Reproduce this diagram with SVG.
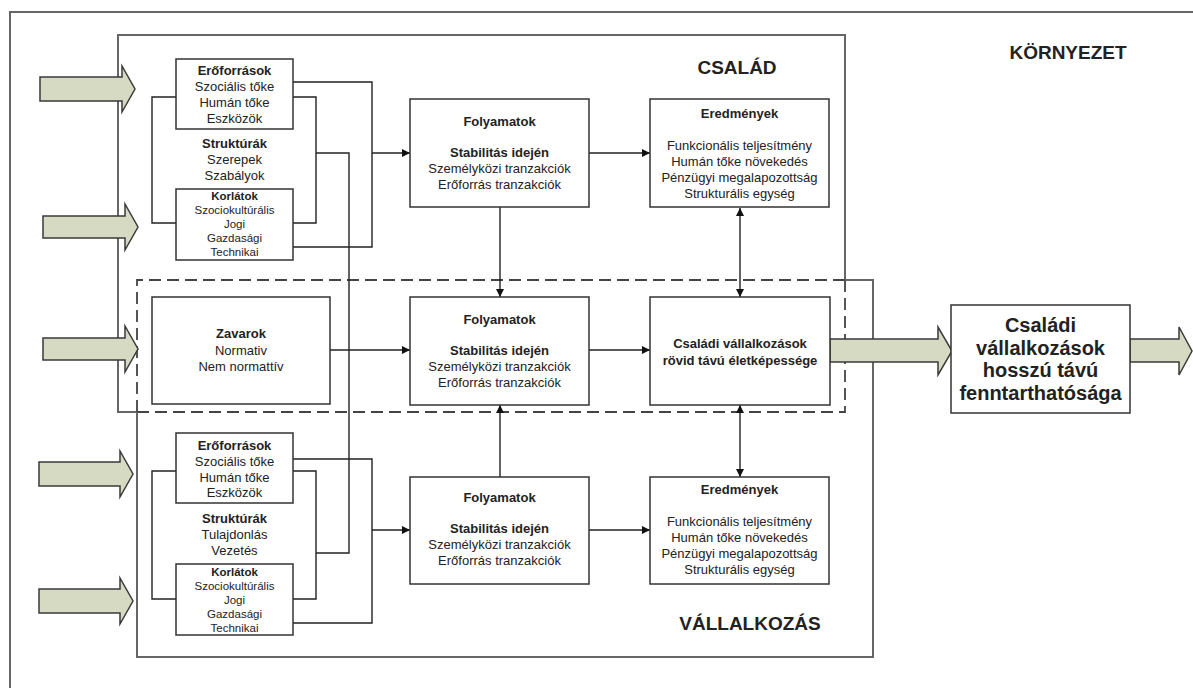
<svg xmlns="http://www.w3.org/2000/svg" width="1193" height="688" viewBox="0 0 1193 688">
<defs>
<marker id="ah" viewBox="0 0 10 10" refX="10" refY="5" markerWidth="9" markerHeight="8" markerUnits="userSpaceOnUse" orient="auto-start-reverse">
<path d="M0,0 L10,5 L0,10 Z" fill="#111"/>
</marker>
<style>
text{font-family:"Liberation Sans",Arial,sans-serif;fill:#222;text-anchor:middle}
.b{font-weight:bold}
.t{font-size:13px}
.s{font-size:11.5px}
.h{font-size:19px;font-weight:bold}
.big{font-size:20px;font-weight:bold}
.box{fill:#fff;stroke:#333;stroke-width:1.5}
.frame{fill:none;stroke:#666;stroke-width:2}
.dash{fill:none;stroke:#444;stroke-width:1.8;stroke-dasharray:12 6}
.ln{fill:none;stroke:#222;stroke-width:1.4}
.arr{fill:none;stroke:#222;stroke-width:1.4;marker-end:url(#ah)}
.arr2{fill:none;stroke:#222;stroke-width:1.4;marker-end:url(#ah);marker-start:url(#ah)}
.fat{fill:#d7dac3;stroke:#3a3a3a;stroke-width:1.5}
</style>
</defs>
<rect width="1193" height="688" fill="#fff"/>

<g id="environment">
<path class="frame" d="M10,700 V12 H1200"/>
<text class="h" x="1068" y="59">KÖRNYEZET</text>
</g>

<g id="csalad-frame">
<path class="frame" d="M137,412 H118 V35 H845 V280"/>
<path class="dash" d="M137,412 H845 V280"/>
<text class="h" x="737" y="74">CSALÁD</text>
</g>

<g id="vallalkozas-frame">
<path class="frame" d="M845,280 H873 V657 H137 V412"/>
<path class="dash" d="M137,412 V280 H845"/>
<text class="h" x="750" y="630">VÁLLALKOZÁS</text>
</g>

<g id="connectors">
<!-- top left brackets -->
<path class="ln" d="M176,97 H152 V223 H176"/>
<path class="ln" d="M293,97 H316 V223 H293"/>
<path class="ln" d="M293,82 H372 V247 H293"/>
<path class="ln" d="M316,153 H349 V553 H316"/>
<path class="arr" d="M372,153 H410"/>
<!-- bottom left brackets -->
<path class="ln" d="M176,471 H152 V599 H176"/>
<path class="ln" d="M293,471 H316 V599 H293"/>
<path class="ln" d="M293,459 H372 V623 H293"/>
<path class="arr" d="M372,530 H410"/>
<!-- process to results -->
<path class="arr" d="M589,153 H650"/>
<path class="arr" d="M330,350 H410"/>
<path class="arr" d="M589,350 H650"/>
<path class="arr" d="M589,530 H650"/>
<!-- verticals -->
<path class="arr" d="M500,207 V297"/>
<path class="arr" d="M500,477 V405"/>
<path class="arr2" d="M740,208 V297"/>
<path class="arr2" d="M740,405 V477"/>
</g>

<g id="input-arrows">
<path class="fat" d="M40,77 H122 V66 L135,89 L122,112 V101 H40 Z"/>
<path class="fat" d="M43,216 H125 V204 L138,227 L125,250 V238 H43 Z"/>
<path class="fat" d="M43,338 H125 V326 L138,349 L125,372 V360 H43 Z"/>
<path class="fat" d="M39,462 H120 V451 L133,474 L120,497 V486 H39 Z"/>
<path class="fat" d="M39,589 H120 V578 L133,601 L120,624 V613 H39 Z"/>
</g>

<g id="output-arrow-1">
<path class="fat" d="M830,339 H938 V327 L952,351 L938,375 V362 H830 Z"/>
</g>
<g id="output-arrow-2">
<path class="fat" d="M1130,339 H1179 V327 L1192,351 L1179,375 V362 H1130 Z"/>
</g>

<g id="csalad-eroforrasok">
<rect class="box" x="176" y="59" width="117" height="70"/>
<text class="t b" x="234.5" y="74.5">Erőforrások</text>
<text class="t" x="234.5" y="90.5">Szociális tőke</text>
<text class="t" x="234.5" y="106.5">Humán tőke</text>
<text class="t" x="234.5" y="122.5">Eszközök</text>
</g>
<g id="csalad-strukturak">
<text class="t b" x="234.5" y="147.5">Struktúrák</text>
<text class="t" x="234.5" y="163.5">Szerepek</text>
<text class="t" x="234.5" y="180">Szabályok</text>
</g>
<g id="csalad-korlatok">
<rect class="box" x="176" y="189" width="117" height="71"/>
<text class="s b" x="234.5" y="199.5">Korlátok</text>
<text class="s" x="234.5" y="213.5">Szociokultúrális</text>
<text class="s" x="234.5" y="227.5">Jogi</text>
<text class="s" x="234.5" y="241.5">Gazdasági</text>
<text class="s" x="234.5" y="255.5">Technikai</text>
</g>

<g id="csalad-folyamatok">
<rect class="box" x="410" y="99" width="179" height="108"/>
<text class="t b" x="499.5" y="125.5">Folyamatok</text>
<text class="t b" x="499.5" y="156.5">Stabilitás idején</text>
<text class="t" x="499.5" y="172.5">Személyközi tranzakciók</text>
<text class="t" x="499.5" y="188.5">Erőforrás tranzakciók</text>
</g>
<g id="csalad-eredmenyek">
<rect class="box" x="650" y="99" width="179" height="108"/>
<text class="t b" x="739.5" y="117.5">Eredmények</text>
<text class="t" x="739.5" y="149.5">Funkcionális teljesítmény</text>
<text class="t" x="739.5" y="165.5">Humán tőke növekedés</text>
<text class="t" x="739.5" y="181.5">Pénzügyi megalapozottság</text>
<text class="t" x="739.5" y="197.5">Strukturális egység</text>
</g>

<g id="zavarok">
<rect class="box" x="152" y="297" width="178" height="107"/>
<text class="t b" x="241" y="337.5">Zavarok</text>
<text class="t" x="241" y="354.5">Normativ</text>
<text class="t" x="241" y="370.5">Nem normattív</text>
</g>
<g id="kozos-folyamatok">
<rect class="box" x="410" y="297" width="179" height="108"/>
<text class="t b" x="499.5" y="323.5">Folyamatok</text>
<text class="t b" x="499.5" y="354.5">Stabilitás idején</text>
<text class="t" x="499.5" y="370.5">Személyközi tranzakciók</text>
<text class="t" x="499.5" y="386.5">Erőforrás tranzakciók</text>
</g>
<g id="rovid-tavu">
<rect class="box" x="650" y="297" width="180" height="108"/>
<text class="t b" x="740" y="347.5">Családi vállalkozások</text>
<text class="t b" x="740" y="364.5">rövid távú életképessége</text>
</g>
<g id="hosszu-tavu">
<rect class="box" x="951" y="305" width="179" height="108"/>
<text class="big" x="1040.5" y="332">Családi</text>
<text class="big" x="1040.5" y="355">vállalkozások</text>
<text class="big" x="1040.5" y="377">hosszú távú</text>
<text class="big" x="1040.5" y="400">fenntarthatósága</text>
</g>

<g id="vall-eroforrasok">
<rect class="box" x="176" y="433" width="117" height="70"/>
<text class="t b" x="234.5" y="449.5">Erőforrások</text>
<text class="t" x="234.5" y="465.5">Szociális tőke</text>
<text class="t" x="234.5" y="481.5">Humán tőke</text>
<text class="t" x="234.5" y="497">Eszközök</text>
</g>
<g id="vall-strukturak">
<text class="t b" x="234.5" y="523">Struktúrák</text>
<text class="t" x="234.5" y="538.5">Tulajdonlás</text>
<text class="t" x="234.5" y="554.5">Vezetés</text>
</g>
<g id="vall-korlatok">
<rect class="box" x="176" y="564" width="117" height="71"/>
<text class="s b" x="234.5" y="575.5">Korlátok</text>
<text class="s" x="234.5" y="589.5">Szociokultúrális</text>
<text class="s" x="234.5" y="603.5">Jogi</text>
<text class="s" x="234.5" y="617.5">Gazdasági</text>
<text class="s" x="234.5" y="631.5">Technikai</text>
</g>

<g id="vall-folyamatok">
<rect class="box" x="410" y="477" width="179" height="107"/>
<text class="t b" x="499.5" y="502">Folyamatok</text>
<text class="t b" x="499.5" y="533">Stabilitás idején</text>
<text class="t" x="499.5" y="549">Személyközi tranzakciók</text>
<text class="t" x="499.5" y="565">Erőforrás tranzakciók</text>
</g>
<g id="vall-eredmenyek">
<rect class="box" x="650" y="477" width="179" height="107"/>
<text class="t b" x="739.5" y="494">Eredmények</text>
<text class="t" x="739.5" y="526">Funkcionális teljesítmény</text>
<text class="t" x="739.5" y="542">Humán tőke növekedés</text>
<text class="t" x="739.5" y="558">Pénzügyi megalapozottság</text>
<text class="t" x="739.5" y="574">Strukturális egység</text>
</g>
</svg>
